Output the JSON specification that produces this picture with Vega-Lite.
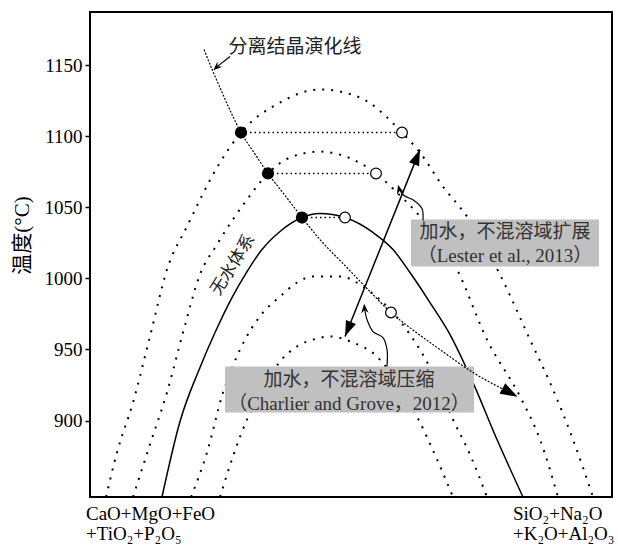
{
  "$schema": "https://vega.github.io/schema/vega-lite/v6.json",
  "width": 522,
  "height": 485,
  "autosize": "none",
  "padding": {"left": 90, "top": 12, "right": 6, "bottom": 49},
  "background": "white",
  "config": {"view": {"stroke": "black", "strokeWidth": 2}, "font": "Liberation Serif", "axis": {"labelFont": "Liberation Serif"}},
  "datasets": {
    "curves": [
      {"c": "A", "x": 3.07, "t": 846.2}, {"c": "A", "x": 5.17, "t": 877.5}, {"c": "A", "x": 8.24, "t": 912.7}, {"c": "A", "x": 11.49, "t": 959.1}, {"c": "A", "x": 14.75, "t": 1006.2}, {"c": "A", "x": 18.58, "t": 1036.5}, {"c": "A", "x": 24.9, "t": 1081.5}, {"c": "A", "x": 28.93, "t": 1102.6}, {"c": "A", "x": 36.4, "t": 1123.7}, {"c": "A", "x": 44.06, "t": 1132.9}, {"c": "A", "x": 51.72, "t": 1127.2}, {"c": "A", "x": 59.77, "t": 1102.6}, {"c": "A", "x": 63.22, "t": 1088.5}, {"c": "A", "x": 67.62, "t": 1064.6}, {"c": "A", "x": 72.22, "t": 1043.5}, {"c": "A", "x": 78.54, "t": 1002.7}, {"c": "A", "x": 84.29, "t": 956.9}, {"c": "A", "x": 88.7, "t": 921.8}, {"c": "A", "x": 92.53, "t": 886.6}, {"c": "A", "x": 96.36, "t": 846.2},
      {"c": "B", "x": 8.24, "t": 846.2}, {"c": "B", "x": 11.49, "t": 883.1}, {"c": "B", "x": 14.75, "t": 919.7}, {"c": "B", "x": 17.82, "t": 961.9}, {"c": "B", "x": 21.07, "t": 1002.7}, {"c": "B", "x": 24.33, "t": 1023.8}, {"c": "B", "x": 30.08, "t": 1055.5}, {"c": "B", "x": 34.1, "t": 1073.8}, {"c": "B", "x": 38.31, "t": 1085.0}, {"c": "B", "x": 44.06, "t": 1089.2}, {"c": "B", "x": 50.38, "t": 1083.6}, {"c": "B", "x": 54.79, "t": 1073.8}, {"c": "B", "x": 58.81, "t": 1060.4}, {"c": "B", "x": 63.22, "t": 1043.5}, {"c": "B", "x": 70.31, "t": 1006.2}, {"c": "B", "x": 76.05, "t": 956.9}, {"c": "B", "x": 82.38, "t": 916.9}, {"c": "B", "x": 86.21, "t": 886.6}, {"c": "B", "x": 89.66, "t": 846.2},
      {"c": "S", "x": 13.79, "t": 846.2}, {"c": "S", "x": 17.24, "t": 899.3}, {"c": "S", "x": 21.07, "t": 937.3}, {"c": "S", "x": 23.95, "t": 961.9}, {"c": "S", "x": 27.2, "t": 986.5}, {"c": "S", "x": 30.08, "t": 1004.8}, {"c": "S", "x": 32.95, "t": 1020.3}, {"c": "S", "x": 36.4, "t": 1033.0}, {"c": "S", "x": 40.61, "t": 1042.8}, {"c": "S", "x": 44.06, "t": 1045.6}, {"c": "S", "x": 48.85, "t": 1042.8}, {"c": "S", "x": 54.21, "t": 1032.3}, {"c": "S", "x": 58.05, "t": 1020.3}, {"c": "S", "x": 61.3, "t": 1004.1}, {"c": "S", "x": 65.13, "t": 983.0}, {"c": "S", "x": 68.97, "t": 960.5}, {"c": "S", "x": 73.37, "t": 926.7}, {"c": "S", "x": 77.97, "t": 886.6}, {"c": "S", "x": 82.95, "t": 846.2},
      {"c": "D", "x": 19.35, "t": 846.2}, {"c": "D", "x": 22.41, "t": 877.5}, {"c": "D", "x": 25.48, "t": 919.7}, {"c": "D", "x": 28.74, "t": 949.9}, {"c": "D", "x": 33.14, "t": 976.0}, {"c": "D", "x": 36.4, "t": 987.2}, {"c": "D", "x": 39.66, "t": 997.1}, {"c": "D", "x": 42.72, "t": 1001.3}, {"c": "D", "x": 47.89, "t": 1001.3}, {"c": "D", "x": 53.07, "t": 992.2}, {"c": "D", "x": 57.47, "t": 978.1}, {"c": "D", "x": 61.3, "t": 960.5}, {"c": "D", "x": 65.52, "t": 934.5}, {"c": "D", "x": 69.54, "t": 900.7}, {"c": "D", "x": 72.8, "t": 876.1}, {"c": "D", "x": 76.05, "t": 846.2},
      {"c": "E", "x": 24.9, "t": 846.2}, {"c": "E", "x": 27.39, "t": 874.7}, {"c": "E", "x": 30.08, "t": 900.7}, {"c": "E", "x": 33.14, "t": 921.8}, {"c": "E", "x": 36.4, "t": 941.5}, {"c": "E", "x": 39.66, "t": 952.1}, {"c": "E", "x": 42.72, "t": 956.9}, {"c": "E", "x": 45.98, "t": 959.1}, {"c": "E", "x": 50.38, "t": 954.9}, {"c": "E", "x": 54.98, "t": 945.0}, {"c": "E", "x": 58.81, "t": 926.7}, {"c": "E", "x": 62.64, "t": 902.8}, {"c": "E", "x": 66.48, "t": 872.6}, {"c": "E", "x": 69.54, "t": 846.2}
    ],
    "frac": [
      {"x": 21.84, "t": 1161.0}, {"x": 23.56, "t": 1145.5}, {"x": 25.48, "t": 1129.3}, {"x": 27.2, "t": 1115.3}, {"x": 28.93, "t": 1102.6}, {"x": 31.42, "t": 1088.5}, {"x": 34.1, "t": 1073.8}, {"x": 37.36, "t": 1058.3}, {"x": 40.61, "t": 1042.8}, {"x": 44.06, "t": 1027.3}, {"x": 48.85, "t": 1009.0}, {"x": 53.64, "t": 990.7}, {"x": 57.66, "t": 976.0}, {"x": 62.26, "t": 962.6}, {"x": 67.05, "t": 949.9}, {"x": 73.37, "t": 933.8}, {"x": 80.46, "t": 919.6}
    ],
    "ties": [
      {"g": 1, "x": 28.93, "t": 1102.6}, {"g": 1, "x": 59.77, "t": 1102.6},
      {"g": 2, "x": 34.1, "t": 1073.8}, {"g": 2, "x": 54.79, "t": 1073.8},
      {"g": 3, "x": 40.61, "t": 1042.8}, {"g": 3, "x": 48.85, "t": 1042.8}
    ],
    "boxes": [
      {"x": 61.49, "x2": 97.51, "t": 1008.3, "t2": 1041.4},
      {"x": 25.86, "x2": 73.56, "t": 905.6, "t2": 938.0}
    ],
    "darrow": [
      {"o": 1, "x": 48.85, "t": 959.1}, {"o": 2, "x": 63.22, "t": 1090.6}
    ],
    "callouts": [
      {"g": "L", "o": 1, "x": 63.79, "t": 1040.7}, {"g": "L", "o": 2, "x": 63.6, "t": 1049.1}, {"g": "L", "o": 3, "x": 62.07, "t": 1054.8}, {"g": "L", "o": 4, "x": 60.15, "t": 1058.3}, {"g": "L", "o": 5, "x": 59.25, "t": 1062.6},
      {"g": "C", "o": 1, "x": 56.9, "t": 938.0}, {"g": "C", "o": 2, "x": 56.9, "t": 949.9}, {"g": "C", "o": 3, "x": 56.13, "t": 958.4}, {"g": "C", "o": 4, "x": 54.21, "t": 962.6}, {"g": "C", "o": 5, "x": 53.07, "t": 971.0}, {"g": "C", "o": 6, "x": 52.59, "t": 978.8},
      {"g": "F", "o": 1, "x": 26.82, "t": 1156.1}, {"g": "F", "o": 2, "x": 24.25, "t": 1148.6}
    ],
    "heads": [
      {"k": "frac", "x": 80.46, "t": 919.6},
      {"k": "up", "x": 62.64, "t": 1085.4},
      {"k": "down", "x": 49.43, "t": 964.3},
      {"k": "cL", "x": 59.25, "t": 1062.6},
      {"k": "cC", "x": 52.59, "t": 978.8},
      {"k": "cF", "x": 24.25, "t": 1148.6}
    ],
    "filled": [
      {"x": 28.93, "t": 1102.6}, {"x": 34.1, "t": 1073.8}, {"x": 40.61, "t": 1042.8}
    ],
    "open": [
      {"x": 59.77, "t": 1102.6}, {"x": 54.79, "t": 1073.8}, {"x": 48.85, "t": 1042.8}, {"x": 57.66, "t": 976.0}
    ],
    "boxtext": [
      {"s": "加水，不混溶域扩展", "x": 79.5, "t": 1032.3},
      {"s": "（Lester et al., 2013）", "x": 79.5, "t": 1015.4},
      {"s": "加水，不混溶域压缩", "x": 49.62, "t": 928.8},
      {"s": "（Charlier and Grove，2012）", "x": 49.62, "t": 911.9}
    ],
    "bottom": [
      {"s": "CaO+MgO+FeO", "x": -0.77, "t": 829.7},
      {"s": "+TiO₂+P₂O₅", "x": -0.77, "t": 815.6},
      {"s": "SiO₂+Na₂O", "x": 81.03, "t": 829.7},
      {"s": "+K₂O+Al₂O₃", "x": 81.03, "t": 815.6}
    ],
    "title1": [{"s": "分离结晶演化线", "x": 39.27, "t": 1163.1}],
    "title2": [{"s": "无水体系", "x": 27.4, "t": 1009.5}]
  },
  "encoding": {
    "x": {"field": "x", "type": "quantitative", "scale": {"domain": [0, 100], "nice": false, "zero": false}, "axis": null},
    "y": {"field": "t", "type": "quantitative", "scale": {"domain": [846.2, 1187.4], "nice": false, "zero": false},
      "axis": {"values": [900, 950, 1000, 1050, 1100, 1150], "format": "d", "domain": false, "grid": false, "ticks": true, "tickSize": 5, "tickColor": "black", "tickWidth": 1.5, "labelFont": "Liberation Serif", "labelFontSize": 19, "labelColor": "black", "labelPadding": 3, "title": "温度(°C)", "titleFont": "Liberation Serif, Noto Sans CJK SC", "titleFontSize": 21, "titleFontWeight": "normal", "titleColor": "black", "titleX": -68, "titleY": 223, "titleAngle": -90, "titleAlign": "center", "titleBaseline": "middle"}}
  },
  "layer": [
    {"data": {"name": "curves"}, "transform": [{"filter": "datum.c !== 'S'"}],
      "mark": {"type": "line", "color": "black", "strokeWidth": 2, "strokeDash": [2, 7], "interpolate": "monotone", "clip": true},
      "encoding": {"detail": {"field": "c"}}},
    {"data": {"name": "curves"}, "transform": [{"filter": "datum.c === 'S'"}],
      "mark": {"type": "line", "color": "black", "strokeWidth": 1.5, "interpolate": "monotone", "clip": true},
      "encoding": {"detail": {"field": "c"}}},
    {"data": {"name": "ties"},
      "mark": {"type": "line", "color": "black", "strokeWidth": 1.5, "strokeDash": [1.5, 3]},
      "encoding": {"detail": {"field": "g"}}},
    {"data": {"name": "boxes"},
      "mark": {"type": "rect", "color": "#c0c0c0"},
      "encoding": {"x2": {"field": "x2"}, "y2": {"field": "t2"}}},
    {"data": {"name": "frac"},
      "mark": {"type": "line", "color": "black", "strokeWidth": 1.2, "strokeDash": [2, 1.5], "interpolate": "monotone"},
      "encoding": {}},
    {"data": {"name": "darrow"},
      "mark": {"type": "line", "color": "black", "strokeWidth": 1.5},
      "encoding": {"order": {"field": "o"}}},
    {"data": {"name": "callouts"},
      "mark": {"type": "line", "color": "black", "strokeWidth": 1.2, "interpolate": "catmull-rom"},
      "encoding": {"detail": {"field": "g"}, "order": {"field": "o"}}},
    {"data": {"name": "heads"}, "transform": [{"filter": "datum.k === 'frac'"}],
      "mark": {"type": "point", "filled": true, "color": "black", "opacity": 1, "shape": "M1,0L-1,-0.7L-1,0.7Z", "size": 300, "angle": 28.6}},
    {"data": {"name": "heads"}, "transform": [{"filter": "datum.k === 'up'"}],
      "mark": {"type": "point", "filled": true, "color": "black", "opacity": 1, "shape": "M1,0L-1,-0.7L-1,0.7Z", "size": 240, "angle": -68}},
    {"data": {"name": "heads"}, "transform": [{"filter": "datum.k === 'down'"}],
      "mark": {"type": "point", "filled": true, "color": "black", "opacity": 1, "shape": "M1,0L-1,-0.7L-1,0.7Z", "size": 240, "angle": 112}},
    {"data": {"name": "heads"}, "transform": [{"filter": "datum.k === 'cL'"}],
      "mark": {"type": "point", "filled": true, "color": "black", "opacity": 1, "shape": "M1,0L-1,-0.8L-0.3,0L-1,0.8Z", "size": 90, "angle": -105}},
    {"data": {"name": "heads"}, "transform": [{"filter": "datum.k === 'cC'"}],
      "mark": {"type": "point", "filled": true, "color": "black", "opacity": 1, "shape": "M1,0L-1,-0.8L-0.3,0L-1,0.8Z", "size": 90, "angle": -95}},
    {"data": {"name": "heads"}, "transform": [{"filter": "datum.k === 'cF'"}],
      "mark": {"type": "point", "filled": true, "color": "black", "opacity": 1, "shape": "M1,0L-1,-0.8L-0.3,0L-1,0.8Z", "size": 80, "angle": 137}},
    {"data": {"name": "filled"},
      "mark": {"type": "point", "shape": "circle", "filled": true, "color": "black", "opacity": 1, "size": 150}},
    {"data": {"name": "open"},
      "mark": {"type": "point", "shape": "circle", "filled": false, "fill": "white", "fillOpacity": 1, "stroke": "black", "strokeWidth": 1.2, "opacity": 1, "size": 115}},
    {"data": {"name": "boxtext"},
      "mark": {"type": "text", "font": "Liberation Serif, Noto Sans CJK SC", "fontSize": 19, "color": "#333333", "align": "center", "baseline": "middle"},
      "encoding": {"text": {"field": "s"}}},
    {"data": {"name": "bottom"},
      "mark": {"type": "text", "font": "Liberation Serif, DejaVu Serif", "fontSize": 19, "color": "black", "align": "left", "baseline": "alphabetic"},
      "encoding": {"text": {"field": "s"}}},
    {"data": {"name": "title1"},
      "mark": {"type": "text", "font": "Noto Sans CJK SC", "fontSize": 19, "color": "#222222", "align": "center", "baseline": "middle"},
      "encoding": {"text": {"field": "s"}}},
    {"data": {"name": "title2"},
      "mark": {"type": "text", "font": "Noto Sans CJK SC", "fontSize": 17, "color": "#222222", "align": "center", "baseline": "middle", "angle": -58},
      "encoding": {"text": {"field": "s"}}}
  ]
}
